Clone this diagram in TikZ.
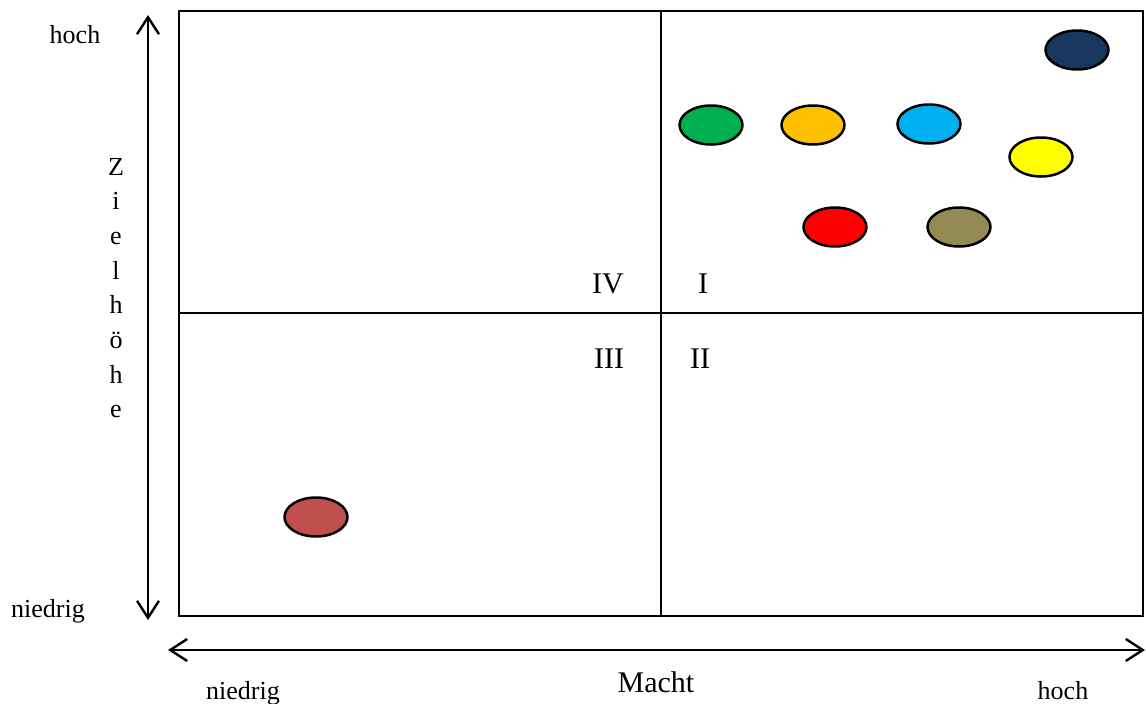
\documentclass[tikz,border=0pt]{standalone}
\usepackage{fontspec}
\setmainfont{Liberation Serif}
\usetikzlibrary{arrows.meta,shapes.geometric}
\definecolor{cnavy}{HTML}{17375E}
\definecolor{cgreen}{HTML}{00B050}
\definecolor{corange}{HTML}{FFC000}
\definecolor{cblue}{HTML}{00B0F0}
\definecolor{cyellow}{HTML}{FFFF00}
\definecolor{cred}{HTML}{FF0000}
\definecolor{colive}{HTML}{948A54}
\definecolor{cbrown}{HTML}{C0504D}
\tikzset{
  lbl/.style={font=\fontsize{26}{30}\selectfont, inner sep=0pt, anchor=base},
  big/.style={font=\fontsize{30}{34}\selectfont, inner sep=0pt, anchor=base},
  blob/.style={draw=black, line width=2.5pt, ellipse, minimum width=63pt, minimum height=39pt, inner sep=0pt},
  axis/.style={line width=2.4pt, {Straight Barb[length=17pt,width=22pt,line width=2.4pt]}-{Straight Barb[length=17pt,width=22pt,line width=2.4pt]}},
  frame/.style={line width=2.2pt}
}
\begin{document}
\begin{tikzpicture}[x=1pt,y=-1pt]
\useasboundingbox (0,0) rectangle (1146,704);
% frame and quadrants
\coordinate (tl) at (179,11);
\coordinate (br) at (1143,616);
\draw[frame] (tl) rectangle (br);
\coordinate (vt) at (661,11);
\coordinate (vb) at (661,616);
\coordinate (hl) at (179,313);
\coordinate (hr) at (1143,313);
\draw[frame] (vt) -- (vb);
\draw[frame] (hl) -- (hr);
% axes
\coordinate (ya) at (148,15);
\coordinate (yb) at (148,620);
\draw[axis] (yb) -- (ya);
\coordinate (xa) at (168,650);
\coordinate (xb) at (1145,650);
\draw[axis] (xa) -- (xb);
% labels
\node[lbl] (hochy) at (75,43) {hoch};
\node[lbl] (niedrigy) at (48,617) {niedrig};
\node[lbl] (niedrigx) at (243,699) {niedrig};
\node[lbl] (hochx) at (1063,699) {hoch};
\node[big] (macht) at (656,692) {Macht};
\foreach \l [count=\i] in {Z,i,e,l,h,ö,h,e}
  \node[lbl] (z\i) at (116,{175+34.7*(\i-1)}) {\l};
\node[big] (q4) at (608,293) {IV};
\node[big] (q1) at (703,293) {I};
\node[big] (q3) at (609,368) {III};
\node[big] (q2) at (700,368) {II};
% ellipses
\node[blob, fill=cnavy] (e1) at (1077,50) {};
\node[blob, fill=cgreen] (e2) at (711,125) {};
\node[blob, fill=corange] (e3) at (813,125) {};
\node[blob, fill=cblue] (e4) at (929,124) {};
\node[blob, fill=cyellow] (e5) at (1041,157) {};
\node[blob, fill=cred] (e6) at (835,227) {};
\node[blob, fill=colive] (e7) at (959,227) {};
\node[blob, fill=cbrown] (e8) at (316,517) {};
\end{tikzpicture}
\end{document}
